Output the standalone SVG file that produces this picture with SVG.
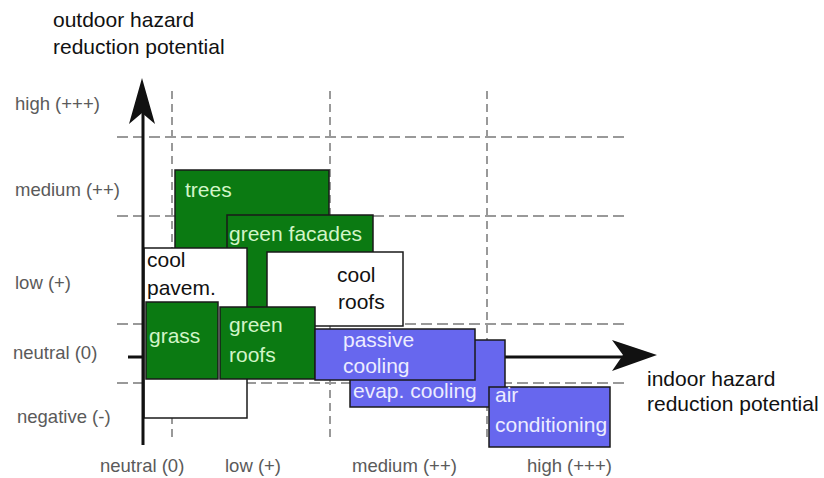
<svg xmlns="http://www.w3.org/2000/svg" width="824" height="478" viewBox="0 0 824 478">
<style>
text{font-family:"Liberation Sans",Arial,sans-serif}
.title{font-size:21px;fill:#111}
.tick{font-size:18.5px;fill:#5a5a5a}
.grid{stroke:#999;stroke-width:2;fill:none}
.gh{stroke-dasharray:11 5}
.gv{stroke-dasharray:8 5}
.box{stroke:#1a1a1a;stroke-width:1.5}
.green{fill:#0b7a12}
.white{fill:#fff}
.blue{fill:#6767ee}
.bt{font-size:21px}
.gt{fill:#d2f5c8}
.wt{fill:#111}
.blt{fill:#ececff}
.axis{stroke:#111;stroke-width:3;fill:none}
</style>
<rect width="824" height="478" fill="#fff"/>
<g id="labels">
<text class="title" x="53" y="27">outdoor hazard</text>
<text class="title" x="53" y="54">reduction potential</text>
<text class="title" x="647" y="386">indoor hazard</text>
<text class="title" x="647" y="411">reduction potential</text>
<text class="tick" x="15" y="110">high (+++)</text>
<text class="tick" x="15" y="196">medium (++)</text>
<text class="tick" x="15" y="289">low (+)</text>
<text class="tick" x="13" y="359">neutral (0)</text>
<text class="tick" x="17" y="423">negative (-)</text>
<text class="tick" x="100" y="472">neutral (0)</text>
<text class="tick" x="225" y="472">low (+)</text>
<text class="tick" x="352" y="472">medium (++)</text>
<text class="tick" x="527" y="472">high (+++)</text>
</g>
<g id="grid">
<line class="grid gh" x1="117" y1="137" x2="627" y2="137"/>
<line class="grid gh" x1="117" y1="216" x2="627" y2="216"/>
<line class="grid gh" x1="117" y1="324" x2="627" y2="324"/>
<line class="grid gh" x1="117" y1="383" x2="627" y2="383"/>
<line class="grid gv" x1="172" y1="91" x2="172" y2="442"/>
<line class="grid gv" x1="330" y1="91" x2="330" y2="442"/>
<line class="grid gv" x1="487" y1="91" x2="487" y2="442"/>
</g>
<g id="connectors">
<line class="axis" x1="128" y1="357" x2="625" y2="357"/>
<polygon points="657,355 612,340 623,355 612,371" fill="#111"/>
</g>
<g id="trees"><rect class="box green" x="175" y="170" width="154" height="140"/><text class="bt gt" x="185" y="197">trees</text></g>
<g id="green-facades"><rect class="box green" x="227" y="215" width="146" height="95"/><text class="bt gt" x="229" y="241">green facades</text></g>
<g id="cool-pavem"><rect class="box white" x="144" y="248" width="103" height="170"/><text class="bt wt" x="147" y="267">cool</text><text class="bt wt" x="147" y="295">pavem.</text></g>
<g id="cool-roofs"><rect class="box white" x="267" y="252" width="136" height="74"/><text class="bt wt" x="337" y="282">cool</text><text class="bt wt" x="338" y="309">roofs</text></g>
<g id="grass"><rect class="box green" x="146" y="302" width="72" height="77"/><text class="bt gt" x="149" y="343">grass</text></g>
<g id="green-roofs"><rect class="box green" x="220" y="307" width="95" height="72"/><text class="bt gt" x="229" y="332">green</text><text class="bt gt" x="229" y="362">roofs</text></g>
<g id="evap-cooling"><rect class="box blue" x="350" y="340" width="155" height="67"/><text class="bt blt" x="353" y="398">evap. cooling</text></g>
<g id="passive-cooling"><rect class="box blue" x="315" y="329" width="160" height="51"/><text class="bt blt" x="343" y="347">passive</text><text class="bt blt" x="343" y="373">cooling</text></g>
<g id="air-conditioning"><rect class="box blue" x="489" y="387" width="121" height="60"/><text class="bt blt" x="495" y="402">air</text><text class="bt blt" x="495" y="432">conditioning</text></g>
<g id="y-axis">
<line class="axis" x1="143" y1="445" x2="143" y2="112"/>
<polygon points="142,78 155,124 142,113 129,124" fill="#111"/>
</g>
</svg>
